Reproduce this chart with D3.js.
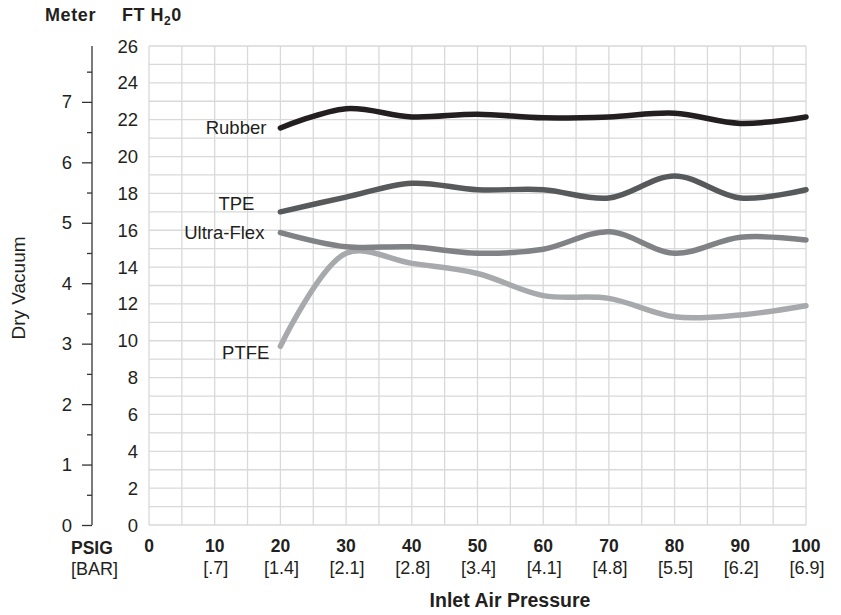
<!DOCTYPE html>
<html>
<head>
<meta charset="utf-8">
<script src="https://cdn.jsdelivr.net/npm/d3@7"></script>
<style>
  body { margin: 0; background: #fff; }
  text { font-family: "Liberation Sans", Arial, sans-serif; fill: #231f20; }
</style>
</head>
<body>
<div id="chart"></div>
<script>
// inlet pressure (psig) and matching bar values
const psig = [20, 30, 40, 50, 60, 70, 80, 90, 100];
const xTicks = [0, 10, 20, 30, 40, 50, 60, 70, 80, 90, 100];
const barLabels = ["", "[.7]", "[1.4]", "[2.1]", "[2.8]", "[3.4]", "[4.1]", "[4.8]", "[5.5]", "[6.2]", "[6.9]"];
const ftTicks = [0, 2, 4, 6, 8, 10, 12, 14, 16, 18, 20, 22, 24, 26];
const meterTicks = [0, 1, 2, 3, 4, 5, 6, 7];

// dry vacuum, FT H2O
const rubber    = [21.55, 22.6, 22.15, 22.3, 22.1, 22.15, 22.35, 21.8, 22.15];
const tpe       = [17.0, 17.8, 18.55, 18.2, 18.2, 17.75, 18.95, 17.75, 18.2];
const ultraFlex = [15.87, 15.1, 15.1, 14.75, 14.97, 15.92, 14.75, 15.62, 15.47];
const ptfe      = [9.7, 14.75, 14.2, 13.65, 12.45, 12.3, 11.3, 11.4, 11.9];

const seriesNames = ["Rubber", "TPE", "Ultra-Flex", "PTFE"];
const seriesValues = [rubber, tpe, ultraFlex, ptfe];
const seriesColors = ["#231f20", "#58595b", "#808285", "#a7a9ac"];
const labelDx = [-14, -26, -16, -11];
const labelDy = [0, -8, 0, 6];

const W = 841, H = 615;
const gLeft = 149, gRight = 806, gTop = 46, gBottom = 525;
const fs = "18.5px";

const svg = d3.select("#chart").append("svg")
  .attr("width", W).attr("height", H);

const x = d3.scaleLinear().domain([0, 100]).range([gLeft, gRight]);
const y = d3.scaleLinear().domain([0, 26]).range([gBottom, gTop]);
const yM = d3.scaleLinear().domain([0, 26 / 3.281]).range([gBottom, gTop]);

// grid
const grid = svg.append("g").attr("stroke", "#d9d9d9").attr("stroke-width", 1.3);
grid.selectAll("line.v").data(d3.range(0, 101, 5)).join("line")
  .attr("class", "v")
  .attr("x1", d => x(d)).attr("x2", d => x(d))
  .attr("y1", gTop).attr("y2", gBottom);
grid.selectAll("line.h").data(d3.range(0, 27, 1)).join("line")
  .attr("class", "h")
  .attr("x1", gLeft).attr("x2", gRight)
  .attr("y1", d => y(d)).attr("y2", d => y(d));

// FT axis labels
svg.append("g").selectAll("text").data(ftTicks).join("text")
  .attr("x", 138).attr("y", d => y(d) + 6.5)
  .attr("text-anchor", "end").style("font-size", fs)
  .text(d => d);

// meter axis
const mAxis = svg.append("g").attr("transform", "translate(92,0)");
mAxis.call(d3.axisLeft(yM).tickValues(d3.range(0, 8, 0.5)).tickSize(10).tickFormat(""));
mAxis.select(".domain").attr("stroke", "#333").attr("stroke-width", 1.3).attr("d", `M0,${gTop}V${gBottom}`);
mAxis.selectAll(".tick line").attr("stroke", "#333").attr("stroke-width", 1.3)
  .attr("x2", d => Number.isInteger(d) ? -10 : -5);
svg.append("g").selectAll("text").data(meterTicks).join("text")
  .attr("x", 72).attr("y", d => yM(d) + 6.5)
  .attr("text-anchor", "end").style("font-size", fs)
  .text(d => d);

// headers
svg.append("text").attr("x", 45).attr("y", 21)
  .style("font-size", "18px").style("font-weight", "bold").style("letter-spacing", "0.6px").text("Meter");
const ftHead = svg.append("text").attr("x", 122).attr("y", 21)
  .style("font-size", "18px").style("font-weight", "bold").style("letter-spacing", "0.5px");
ftHead.append("tspan").text("FT H");
ftHead.append("tspan").attr("dy", 4).style("font-size", "12px").text("2");
ftHead.append("tspan").attr("dy", -4).text("0");

svg.append("text")
  .attr("transform", "translate(25,288) rotate(-90)")
  .attr("text-anchor", "middle").style("font-size", "19px")
  .text("Dry Vacuum");

// x labels
svg.append("g").selectAll("text").data(xTicks).join("text")
  .attr("x", d => x(d)).attr("y", 552)
  .attr("text-anchor", "middle").style("font-size", "17.5px").style("font-weight", "bold")
  .text(d => d);
svg.append("g").selectAll("text").data(xTicks).join("text")
  .attr("x", d => x(d) + 1).attr("y", 574)
  .attr("text-anchor", "middle").style("font-size", "18px")
  .text((d, i) => barLabels[i]);
svg.append("text").attr("x", 71).attr("y", 554)
  .style("font-size", "17.5px").style("font-weight", "bold").text("PSIG");
svg.append("text").attr("x", 71).attr("y", 575)
  .style("font-size", "18px").text("[BAR]");
svg.append("text").attr("x", 510).attr("y", 607)
  .attr("text-anchor", "middle").style("font-size", "19.5px").style("font-weight", "bold")
  .text("Inlet Air Pressure");

// lines
const line = d3.line()
  .x((d, i) => x(psig[i]))
  .y(d => y(d))
  .curve(d3.curveCatmullRom.alpha(0.5));

for (let s = seriesValues.length - 1; s >= 0; s--) {
  svg.append("path")
    .datum(seriesValues[s])
    .attr("fill", "none")
    .attr("stroke", seriesColors[s])
    .attr("stroke-width", 5.5)
    .attr("stroke-linecap", "round")
    .attr("d", line);
}

svg.append("g").selectAll("text").data(seriesNames).join("text")
  .attr("x", (d, i) => x(psig[0]) + labelDx[i])
  .attr("y", (d, i) => y(seriesValues[i][0]) + 6.5 + labelDy[i])
  .attr("text-anchor", "end").style("font-size", fs)
  .text(d => d);
</script>
</body>
</html>
